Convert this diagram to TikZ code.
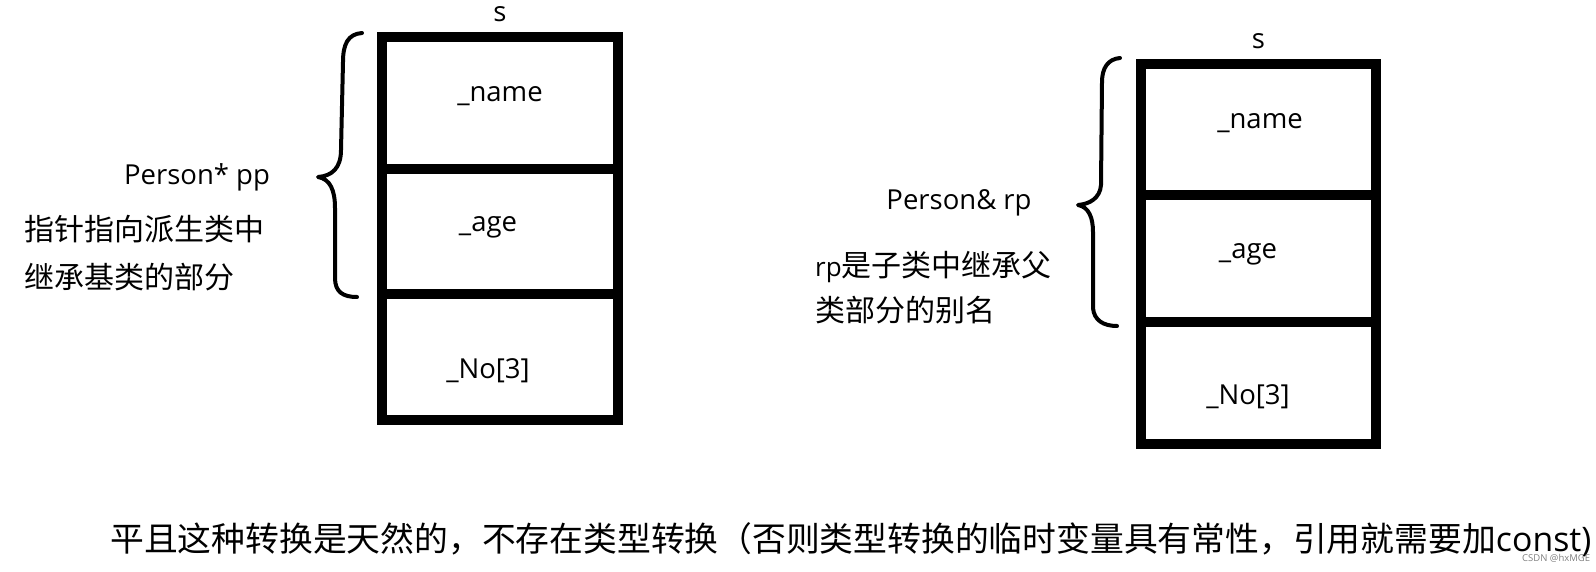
\documentclass[tikz,border=0pt]{standalone}
\usepackage{fontspec}
\setmainfont{Open Sans}
\newfontfamily\cjk{Noto Sans CJK SC}
\usetikzlibrary{positioning}
\tikzset{
  cell/.style={draw, line width=10pt, inner sep=0pt, outer sep=0pt, minimum width=236pt, anchor=north west},
  field/.style={font=\fontsize{27.5}{32}\selectfont, inner sep=0pt},
  note/.style={font=\fontsize{30}{36}\selectfont\cjk, inner sep=0pt, anchor=west},
  brace/.style={line width=4pt, line cap=round, line join=round},
}

\begin{document}
\begin{tikzpicture}[x=1pt, y=-1pt]
  \useasboundingbox (0,0) rectangle (1596,572);

  % object s, seen through the pointer
  \node[cell, minimum height=132pt] (l1) at (382,37) {};
  \node[cell, minimum height=125pt] (l2) at (l1.south west) {};
  \node[cell, minimum height=126pt] (l3) at (l2.south west) {};
  \node[field, above=15pt of l1] (ls) {s};
  \node[field] (lname) at (500,96) {\_name};
  \node[field] (lage) at (488,227) {\_age};
  \node[field] (lno) at (488,371) {\_No[3]};

  \draw[brace] (362,33) .. controls (348,34) and (343,44) .. (343,62) -- (341,150)
    .. controls (341,168) and (332,176) .. (318,177)
    .. controls (330,179) and (335,190) .. (335,208) -- (335,278)
    .. controls (335,292) and (343,297) .. (357,297);

  \node[field] (pp) at (197,177) {Person* pp};
  \node[note] (pp1) at (24,229) {指针指向派生类中};
  \node[note] (pp2) at (24,277) {继承基类的部分};

  % object s, seen through the reference
  \node[cell, minimum width=235pt, minimum height=131pt] (r1) at (1141,64) {};
  \node[cell, minimum width=235pt, minimum height=127pt] (r2) at (r1.south west) {};
  \node[cell, minimum width=235pt, minimum height=122pt] (r3) at (r2.south west) {};
  \node[field, above=15pt of r1] (rs) {s};
  \node[field] (rname) at (1260,123) {\_name};
  \node[field] (rage) at (1248,254) {\_age};
  \node[field] (rno) at (1248,397) {\_No[3]};

  \draw[brace] (1120,58) .. controls (1108,59) and (1102,68) .. (1102,82) -- (1101,185)
    .. controls (1100,198) and (1090,204) .. (1078,205)
    .. controls (1089,207) and (1093,218) .. (1093,232) -- (1093,308)
    .. controls (1094,320) and (1103,326) .. (1117,326);

  \node[field] (rp) at (959,203) {Person\& rp};
  \node[note] (rp1) at (815,267) {{\fontsize{26}{30}\rmfamily rp}是子类中继承父};
  \node[note] (rp2) at (815,310) {类部分的别名};

  % remark
  \node[note, font=\fontsize{33.8}{40}\selectfont\cjk] (tail) at (110,540)
    {平且这种转换是天然的，不存在类型转换（否则类型转换的临时变量具有常性，引用就需要加{\rmfamily const)}};
  \node[font=\fontsize{9.5}{11}\selectfont, text=gray, inner sep=0pt, anchor=west] (mark) at (1522,558) {CSDN @hxMGE};
\end{tikzpicture}
\end{document}
